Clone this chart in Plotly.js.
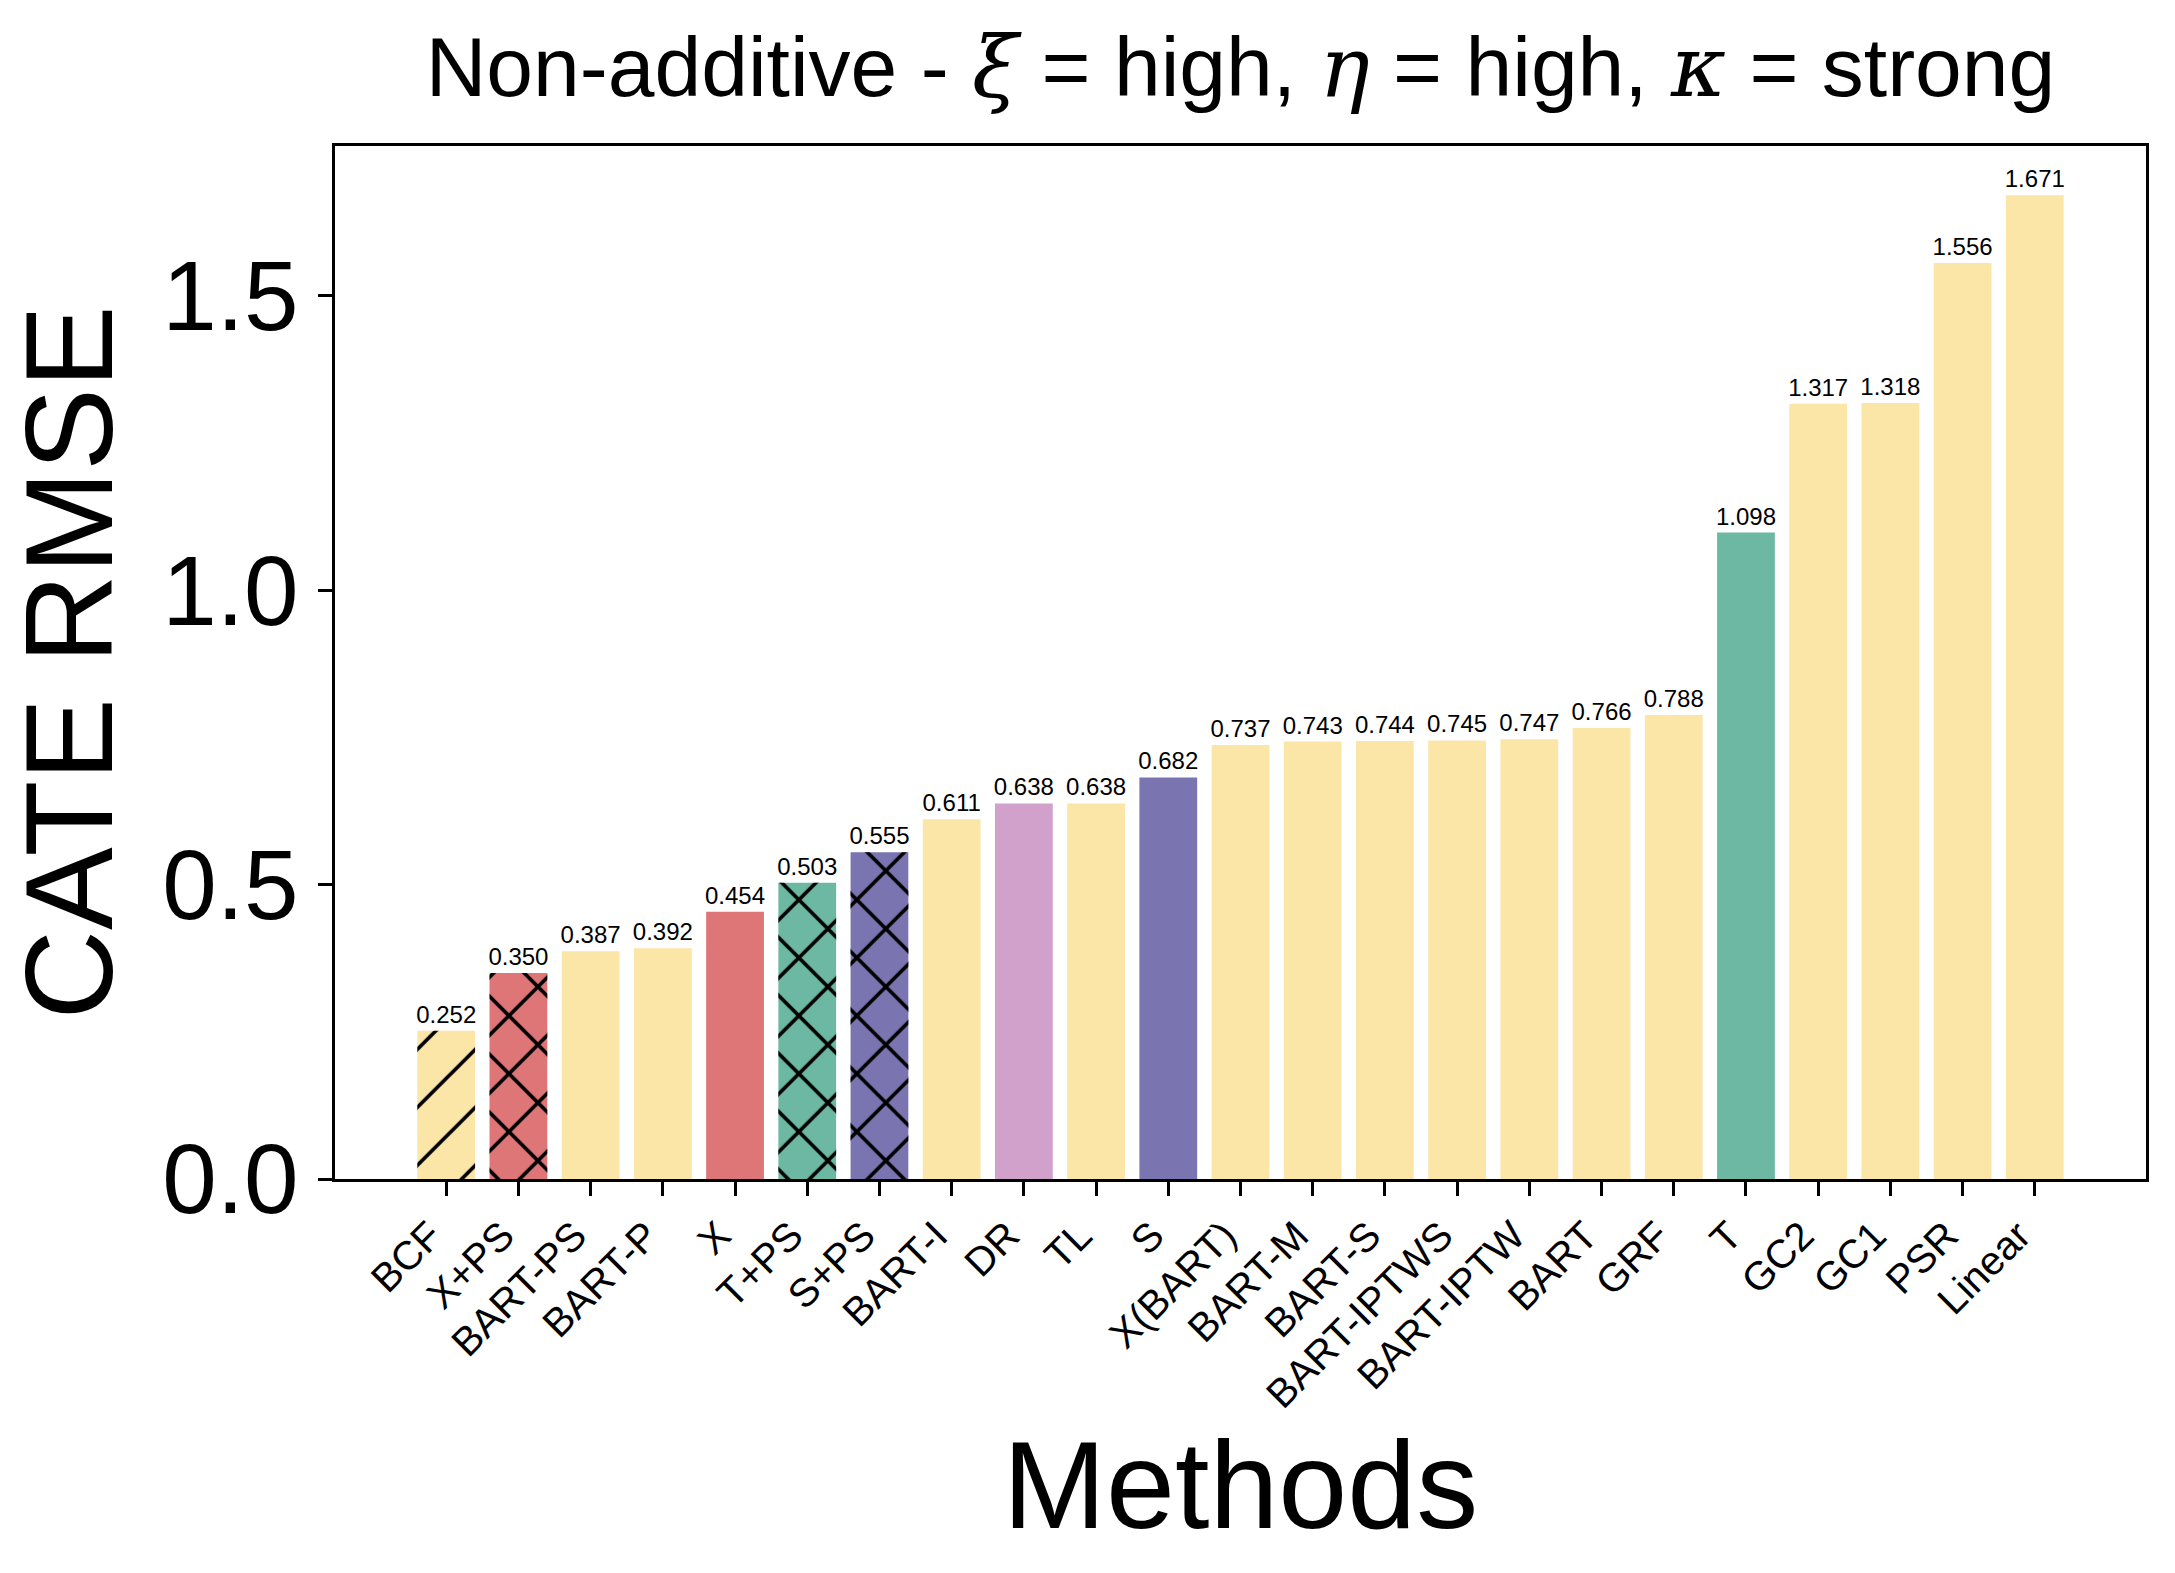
<!DOCTYPE html>
<html>
<head>
<meta charset="utf-8">
<script src="https://cdn.plot.ly/plotly-3.0.1.min.js"></script>
<style>html,body{margin:0;padding:0;background:#fff;}#chart{width:2175px;height:1573px;}</style>
</head>
<body>
<div id="chart"></div>
<script>
const methods = ['BCF','X+PS','BART-PS','BART-P','X','T+PS','S+PS','BART-I','DR','TL','S','X(BART)','BART-M','BART-S','BART-IPTWS','BART-IPTW','BART','GRF','T','GC2','GC1','PSR','Linear'];
const rmse = [0.252,0.350,0.387,0.392,0.454,0.503,0.555,0.611,0.638,0.638,0.682,0.737,0.743,0.744,0.745,0.747,0.766,0.788,1.098,1.317,1.318,1.556,1.671];
const family = ['Y','R','Y','Y','R','G','P','Y','K','Y','P','Y','Y','Y','Y','Y','Y','Y','G','Y','Y','Y','Y'];
const hatch = ['/','x','','','','x','x','','','','','','','','','','','','','','','',''];
const familyColors = {Y:'#FBE5A7', R:'#DE7577', G:'#6DB8A2', P:'#7A75B0', K:'#D1A0CB'};

const barColors = family.map(f => familyColors[f]);

const hatchIdx = hatch.map((h, i) => h ? i : -1).filter(i => i >= 0);
const hatchX = hatchIdx.map(i => methods[i]);
const hatchY = hatchIdx.map(i => rmse[i]);
const hatchShape = hatchIdx.map(i => hatch[i]);
const hatchSolidity = hatchShape.map(h => h === '/' ? 0.09 : 0.17);

const bars = {
  type: 'bar',
  x: methods,
  y: rmse,
  width: 0.8,
  marker: {color: barColors, line: {width: 0}},
  texttemplate: '%{y:.3f}',
  textposition: 'outside',
  textfont: {family: 'Liberation Sans, Arial, sans-serif', size: 24, color: 'black'},
  constraintext: 'none',
  cliponaxis: false,
  hoverinfo: 'x+y'
};

const hatches = {
  type: 'bar',
  x: hatchX,
  y: hatchY,
  width: 0.8,
  marker: {
    color: 'rgba(0,0,0,0)',
    line: {width: 0},
    pattern: {
      shape: hatchShape,
      fillmode: 'replace',
      fgcolor: 'black',
      bgcolor: 'rgba(0,0,0,0)',
      fgopacity: 1,
      size: 41,
      solidity: hatchSolidity
    }
  },
  textposition: 'none',
  hoverinfo: 'skip'
};

const layout = {
  width: 2175,
  height: 1573,
  margin: {l: 335, r: 29, t: 146, b: 394},
  paper_bgcolor: 'white',
  plot_bgcolor: 'white',
  font: {family: 'Liberation Sans, Arial, sans-serif', color: 'black'},
  showlegend: false,
  barmode: 'overlay',
  title: {
    text: 'Non-additive - <span style="font-family:\'DejaVu Serif\'"><i>ξ</i></span> = high, <span style="font-family:\'DejaVu Serif\'"><i>η</i></span> = high, <span style="font-family:\'DejaVu Serif\'"><i>κ</i></span> = strong',
    font: {size: 84, color: 'black'},
    x: 0.5, xref: 'paper', xanchor: 'center',
    y: 1 - 67/1573, yref: 'container', yanchor: 'middle'
  },
  xaxis: {
    type: 'category',
    categoryorder: 'array',
    categoryarray: methods,
    range: [-1.54, 23.54],
    showline: true, mirror: true, linecolor: 'black', linewidth: 3,
    ticks: 'outside', ticklen: 14, tickwidth: 3, tickcolor: 'black',
    tickangle: -45,
    ticklabelshift: -16,
    tickfont: {size: 40, color: 'black'},
    showgrid: false, zeroline: false,
    automargin: false,
    title: {text: 'Methods', font: {size: 124, color: 'black'}, standoff: 10}
  },
  yaxis: {
    range: [0, 1.7546],
    tick0: 0, dtick: 0.5, tickformat: '.1f',
    showline: true, mirror: true, linecolor: 'black', linewidth: 3,
    ticks: 'outside', ticklen: 14, tickwidth: 3, tickcolor: 'black',
    tickfont: {size: 98, color: 'black'},
    showgrid: false, zeroline: false,
    automargin: false,
    title: {text: 'CATE RMSE', font: {size: 124, color: 'black'}, standoff: 23}
  }
};

Plotly.newPlot('chart', [bars, hatches], layout, {staticPlot: true, displayModeBar: false});
</script>
</body>
</html>
